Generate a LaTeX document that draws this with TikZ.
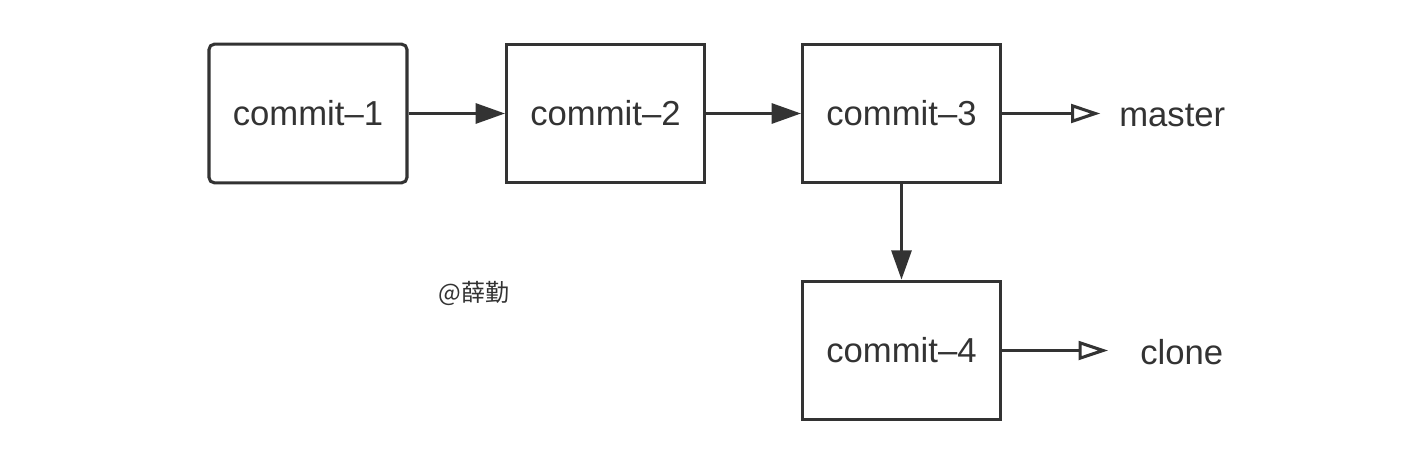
\documentclass[tikz,border=0pt]{standalone}
\usepackage{fontspec}
\setmainfont{Liberation Sans}
\newfontfamily\cjk{Noto Sans CJK SC}
\usetikzlibrary{arrows.meta}
\definecolor{ink}{HTML}{333333}
\tikzset{
  commitbox/.style={draw=ink, line width=2.3pt, minimum width=148.5pt, minimum height=104pt, inner sep=0pt, text=ink, font=\fontsize{26}{31}\selectfont},
  roundbox/.style={commitbox, rounded corners=4pt},
  label/.style={inner sep=0pt, text=ink, font=\fontsize{26}{31}\selectfont},
  solidarrow/.style={draw=ink, line width=2.3pt, -{Triangle[length=22pt,width=15pt]}},
  openarrow/.style={draw=ink, line width=2.3pt, -{Triangle[open,length=22pt,width=14pt,fill=white]}},
}
\begin{document}
\begin{tikzpicture}[x=0.75pt,y=-0.75pt]
\useasboundingbox[fill=white] (0,0) rectangle (1428,474);
\node[roundbox] (c1) at (308,113.5) {commit–1};
\node[commitbox] (c2) at (605.5,113.5) {commit–2};
\node[commitbox] (c3) at (901.5,113.5) {commit–3};
\node[commitbox] (c4) at (901.5,350.5) {commit–4};
\node[label, anchor=west] (master) at (1119,115) {master};
\node[label, anchor=west] (clone) at (1140,352) {clone};
\node[inner sep=0pt, text=ink, font=\cjk\fontsize{18}{22}\selectfont] (wm) at (474,293) {@薛勤};
\draw[solidarrow] (c1.east) -- (c2.west);
\draw[solidarrow] (c2.east) -- (c3.west);
\draw[solidarrow] (c3.south) -- (c4.north);
\draw[openarrow, shorten >=14pt] (c3.east) -- (c3.east -| master.west);
\draw[openarrow, shorten >=24pt] (c4.east) -- (c4.east -| clone.west);
\end{tikzpicture}
\end{document}
